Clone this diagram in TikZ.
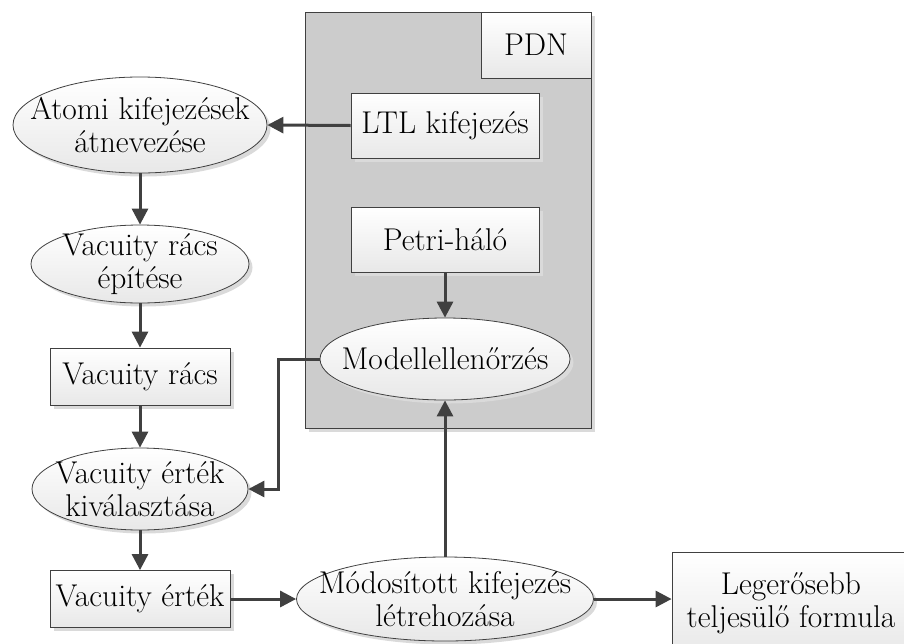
\documentclass[tikz,border=0pt]{standalone}
\usepackage{fontspec}
\usetikzlibrary{shapes.geometric,arrows.meta,shadows}
\definecolor{linegray}{RGB}{64,64,64}
\definecolor{panelgray}{RGB}{204,204,204}
\definecolor{boxgray}{RGB}{232,232,232}
\definecolor{shadowgray}{RGB}{218,218,218}
\begin{document}
\begin{tikzpicture}[x=1pt,y=-1pt,
  every node/.style={font=\fontsize{31.5}{33}\selectfont, align=center, inner sep=0pt},
  softshadow/.style={drop shadow={shadow xshift=3.5pt, shadow yshift=-3.5pt, fill=shadowgray, opacity=1}},
  flowbox/.style={rectangle, draw=linegray, line width=0.8pt, top color=white, bottom color=boxgray, softshadow},
  % ovals keep their given size; the caption is set as a centred label
  flowoval/.style={ellipse, draw=linegray, line width=0.8pt, top color=white, bottom color=boxgray, softshadow,
    label={center:{#1}}},
  panel/.style={rectangle, draw=linegray, line width=0.8pt, fill=panelgray, softshadow},
  arr/.style={draw=linegray, line width=3pt, -{Triangle[length=16pt,width=16pt]}}
]
\clip (0,0) rectangle (904,643);

% PDN panel
\node[panel, minimum width=286pt, minimum height=416pt] (pdn) at (448,220) {};
\node[rectangle, draw=linegray, line width=0.8pt, top color=white, bottom color=boxgray,
      minimum width=110pt, minimum height=66pt] (pdnlabel) at (536,45) {PDN};
\node[flowbox, minimum width=188pt, minimum height=65pt] (ltl) at (445,125.5) {LTL kifejezés};
\node[flowbox, minimum width=188pt, minimum height=65pt] (petri) at (445,239.5) {Petri-háló};
\node[flowoval={Modellellenőrzés}, minimum width=250pt, minimum height=82pt] (modell) at (445,359) {};

% left column
\node[flowoval={Atomi kifejezések\\átnevezése}, minimum width=254pt, minimum height=96pt] (atomi) at (140,125) {};
\node[flowoval={Vacuity rács\\építése}, minimum width=218pt, minimum height=78pt] (epit) at (140,264) {};
\node[flowbox, minimum width=180pt, minimum height=57pt] (racs) at (140,376.5) {Vacuity rács};
\node[flowoval={Vacuity érték\\kiválasztása}, minimum width=216pt, minimum height=82pt] (kival) at (140,489) {};
\node[flowbox, minimum width=180pt, minimum height=57pt] (ertek) at (140,599) {Vacuity érték};

% bottom row
\node[flowoval={Módosított kifejezés\\létrehozása}, minimum width=297pt, minimum height=84pt] (modos) at (445,599) {};
\node[flowbox, minimum width=238pt, minimum height=103pt] (leg) at (791,603.5) {Legerősebb\\teljesülő formula};

% connectors
\draw[arr] (ltl.west) -- (atomi.east);
\draw[arr] (atomi.south) -- (epit.north);
\draw[arr] (epit.south) -- (racs.north);
\draw[arr] (racs.south) -- (kival.north);
\draw[arr] (kival.south) -- (ertek.north);
\draw[arr] (petri.south) -- (modell.north);
\draw[arr] (modell.west) -- ++(-41,0) |- (kival.east);
\draw[arr] (ertek.east) -- (modos.west);
\draw[arr] (modos.north) -- (modell.south);
\draw[arr] (modos.east) -- (modos.east -| leg.west);
\end{tikzpicture}
\end{document}
